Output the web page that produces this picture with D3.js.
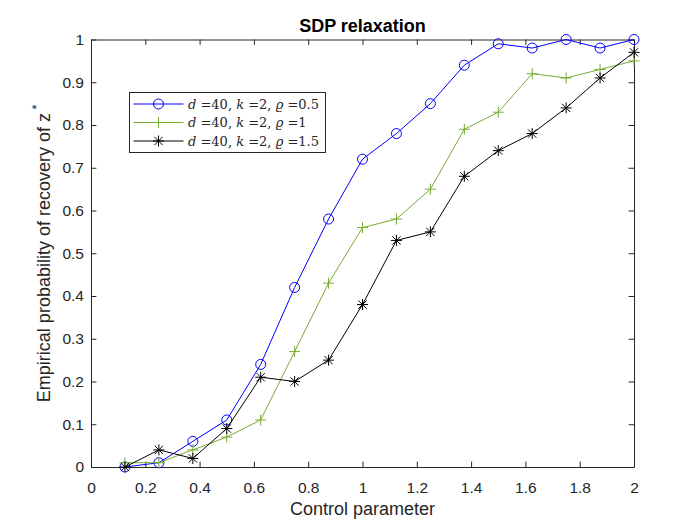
<!DOCTYPE html>
<html>
<head>
<meta charset="utf-8">
<script src="https://cdn.jsdelivr.net/npm/d3@7"></script>
<style>
  body { margin: 0; background: #fff; }
  text { font-family: "Liberation Sans", Arial, sans-serif; }
</style>
</head>
<body>
<script>
// figure size and axes box (matlab default position)
var w = 700;
var h = 525;
var axLeft = 91, axRight = 634, axTop = 39.5, axBottom = 467;

// data
var xValues = [0.125, 0.25, 0.375, 0.5, 0.625, 0.75, 0.875, 1, 1.125, 1.25, 1.375, 1.5, 1.625, 1.75, 1.875, 2];
var rho05 = [0, 0.01, 0.06, 0.11, 0.24, 0.42, 0.58, 0.72, 0.78, 0.85, 0.94, 0.99, 0.98, 1.0, 0.98, 1.0];
var rho1 = [0.01, 0.01, 0.04, 0.07, 0.11, 0.27, 0.43, 0.56, 0.58, 0.65, 0.79, 0.83, 0.92, 0.91, 0.93, 0.95];
var rho15 = [0, 0.04, 0.02, 0.09, 0.21, 0.20, 0.25, 0.38, 0.53, 0.55, 0.68, 0.74, 0.78, 0.84, 0.91, 0.97];
var rhoLabels = ["0.5", "1", "1.5"];
var xTicks = [0, 0.2, 0.4, 0.6, 0.8, 1, 1.2, 1.4, 1.6, 1.8, 2];
var yTicks = [0, 0.1, 0.2, 0.3, 0.4, 0.5, 0.6, 0.7, 0.8, 0.9, 1];

var series = [
  { values: rho05, color: "#0000ff", marker: "circle", rho: rhoLabels[0] },
  { values: rho1, color: "#77ac30", marker: "plus", rho: rhoLabels[1] },
  { values: rho15, color: "#000000", marker: "star", rho: rhoLabels[2] }
];

var svg = d3.select("body")
            .append("svg")
            .attr("width", w)
            .attr("height", h);

var x = d3.scaleLinear().domain([0, 2]).range([axLeft, axRight]);
var y = d3.scaleLinear().domain([0, 1]).range([axBottom, axTop]);

// draws a marker of given type at 0,0 into group g
function drawMarker(g, type, color) {
  if (type == "circle") {
    g.append("circle")
     .attr("r", 5)
     .attr("fill", "none")
     .attr("stroke", color)
     .attr("stroke-width", 1);
  } else {
    var s = 5.5;
    var segs = [[-s, 0, s, 0], [0, -s, 0, s]];
    if (type == "star") {
      var d = s * 0.75;
      segs.push([-d, -d, d, d], [-d, d, d, -d]);
    }
    segs.forEach(function(p) {
      g.append("line")
       .attr("x1", p[0]).attr("y1", p[1])
       .attr("x2", p[2]).attr("y2", p[3])
       .attr("stroke", color)
       .attr("stroke-width", 1);
    });
  }
}

// axes, ticks inside, box on
var tickLen = 5.4;
var axisG = svg.append("g");

axisG.append("g")
     .attr("transform", "translate(0," + axBottom + ")")
     .call(d3.axisBottom(x).tickValues(xTicks).tickSizeInner(-tickLen).tickSizeOuter(0).tickPadding(15)
             .tickFormat(d3.format("~g")));
axisG.append("g")
     .attr("transform", "translate(0," + axTop + ")")
     .call(d3.axisTop(x).tickValues(xTicks).tickSizeInner(-tickLen).tickSizeOuter(0).tickFormat(""));
axisG.append("g")
     .attr("transform", "translate(" + axLeft + ",0)")
     .call(d3.axisLeft(y).tickValues(yTicks).tickSizeInner(-tickLen).tickSizeOuter(0).tickPadding(7)
             .tickFormat(d3.format("~g")));
axisG.append("g")
     .attr("transform", "translate(" + axRight + ",0)")
     .call(d3.axisRight(y).tickValues(yTicks).tickSizeInner(-tickLen).tickSizeOuter(0).tickFormat(""));

axisG.selectAll(".domain").attr("stroke", "#262626");
axisG.selectAll(".tick line").attr("stroke", "#262626");
axisG.selectAll(".tick text")
     .attr("fill", "#262626")
     .style("font-size", "15.5px")
     .style("font-family", "'Liberation Sans', Arial, sans-serif");

// lines and markers
var line = d3.line()
             .x(function(d, i) { return x(xValues[i]); })
             .y(function(d) { return y(d); });

series.forEach(function(s) {
  svg.append("path")
     .datum(s.values)
     .attr("fill", "none")
     .attr("stroke", s.color)
     .attr("stroke-width", 1)
     .attr("d", line);

  s.values.forEach(function(v, i) {
    var g = svg.append("g")
               .attr("transform", "translate(" + x(xValues[i]) + "," + y(v) + ")");
    drawMarker(g, s.marker, s.color);
  });
});

// title
svg.append("text")
   .attr("x", (axLeft + axRight) / 2)
   .attr("y", 31.5)
   .attr("text-anchor", "middle")
   .attr("fill", "#000")
   .style("font-size", "18px")
   .style("font-weight", "bold")
   .text("SDP relaxation");

// x label
svg.append("text")
   .attr("x", (axLeft + axRight) / 2)
   .attr("y", 515)
   .attr("text-anchor", "middle")
   .attr("fill", "#262626")
   .style("font-size", "18px")
   .text("Control parameter");

// y label with superscript star
var yLab = svg.append("text")
              .attr("transform", "translate(50," + (axTop + axBottom) / 2 + ") rotate(-90)")
              .attr("text-anchor", "middle")
              .attr("fill", "#262626")
              .style("font-size", "18px");
yLab.append("tspan").text("Empirical probability of recovery of z");
yLab.append("tspan").attr("dy", -9).style("font-size", "13px").text(" *");

// legend
var legend = svg.append("g").attr("transform", "translate(129.5,92.5)");
legend.append("rect")
      .attr("width", 196)
      .attr("height", 60)
      .attr("fill", "#fff")
      .attr("stroke", "#262626")
      .attr("stroke-width", 1);

series.forEach(function(s, i) {
  var ly = 11.5 + i * 18.5;
  legend.append("line")
        .attr("x1", 4).attr("x2", 54)
        .attr("y1", ly).attr("y2", ly)
        .attr("stroke", s.color)
        .attr("stroke-width", 1);
  var mg = legend.append("g").attr("transform", "translate(29," + ly + ")");
  drawMarker(mg, s.marker, s.color);

  var t = legend.append("text")
                .attr("x", 58.5)
                .attr("y", ly + 4.5)
                .attr("fill", "#262626")
                .style("font-family", "'DejaVu Serif', 'Liberation Serif', serif")
                .style("font-size", "13px");
  t.append("tspan").style("font-style", "italic").text("d");
  t.append("tspan").text(" =40, ");
  t.append("tspan").style("font-style", "italic").text("k");
  t.append("tspan").text(" =2, ");
  t.append("tspan").style("font-style", "italic").text("\u03F1");
  t.append("tspan").text(" =" + s.rho);
});
</script>
</body>
</html>
